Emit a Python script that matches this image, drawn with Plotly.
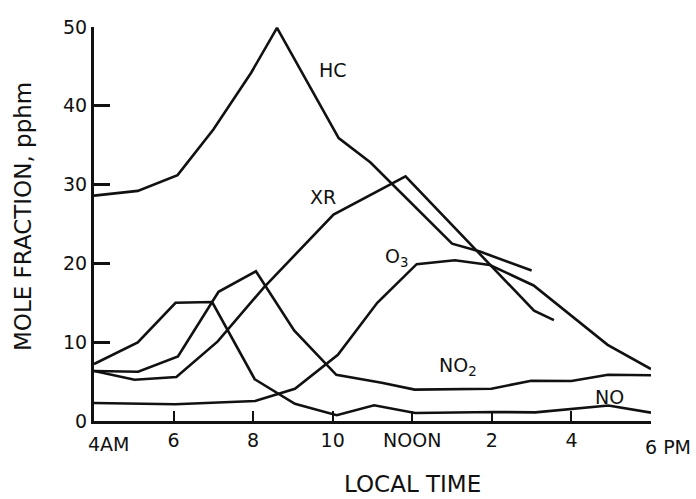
import plotly.graph_objects as go

# Local time (hours, 24h clock) and mole fractions (pphm)
hc_x = [4.0, 5.1, 6.1, 7.0, 7.95, 8.6, 10.15, 10.95, 13.0, 13.7, 15.0]
hc_y = [28.6, 29.2, 31.2, 37.0, 44.2, 49.9, 35.9, 32.8, 22.5, 21.5, 19.1]

xr_x = [4.0, 5.02, 6.07, 7.11, 8.26, 10.02, 11.83, 15.06, 15.56]
xr_y = [6.35, 5.23, 5.59, 10.1, 16.9, 26.2, 31.05, 14.0, 12.8]

o3_x = [4.0, 6.04, 8.05, 9.05, 10.13, 11.12, 12.11, 13.07, 13.95, 15.05, 16.91, 18.0]
o3_y = [2.28, 2.12, 2.54, 4.09, 8.39, 15.0, 19.9, 20.4, 19.8, 17.2, 9.67, 6.6]

no2_x = [4.0, 5.11, 6.11, 7.13, 8.07, 9.03, 10.09, 11.23, 12.06, 13.99, 14.99, 16.0, 16.92, 18.0]
no2_y = [6.35, 6.25, 8.2, 16.4, 19.0, 11.5, 5.85, 4.86, 3.98, 4.1, 5.1, 5.08, 5.86, 5.8]

no_x = [4.0, 5.1, 6.05, 6.97, 8.04, 9.05, 10.1, 11.04, 12.07, 14.07, 15.09, 16.09, 16.93, 18.0]
no_y = [7.23, 9.97, 15.0, 15.1, 5.3, 2.19, 0.73, 2.0, 1.02, 1.15, 1.09, 1.57, 1.96, 1.06]

x_tickvals = [6, 8, 10, 12, 14, 16]
x_ticktext = ["6", "8", "10", "NOON", "2", "4"]
x_end_ticks = [4, 18]
x_end_text = ["4AM", "6 PM"]
y_tickvals = [0, 10, 20, 30, 40, 50]

# series labels: (text, x, y)
label_text = ["HC", "XR", "O<sub>3</sub>", "NO<sub>2</sub>", "NO"]
label_x = [10.0, 9.75, 11.6, 13.15, 16.96]
label_y = [44.6, 28.4, 20.8, 6.9, 3.05]

INK = "#111111"
FONT = "DejaVu Sans"

fig = go.Figure()
for xs, ys in [(hc_x, hc_y), (xr_x, xr_y), (o3_x, o3_y), (no2_x, no2_y), (no_x, no_y)]:
    fig.add_trace(go.Scatter(x=xs, y=ys, mode="lines",
                             line=dict(color=INK, width=2.6),
                             showlegend=False, hoverinfo="skip"))

for t, x, y in zip(label_text, label_x, label_y):
    fig.add_annotation(x=x, y=y, xref="x", yref="y", text=t, showarrow=False,
                       font=dict(family=FONT, size=19, color=INK))

# end tick labels, offset like the original (number sits on the tick)
for xv, t, ys in zip(x_end_ticks, x_end_text, [-10, -13]):
    fig.add_annotation(x=xv, y=0, xref="x", yref="y", text=t, showarrow=False,
                       xanchor="left", yanchor="top", xshift=-8, yshift=ys,
                       font=dict(family=FONT, size=19, color=INK))

# axis titles
fig.add_annotation(x=(412 - 94) / 557, y=(421 - 484) / 394, xref="paper", yref="paper",
                   xanchor="center", yanchor="middle",
                   text="LOCAL TIME", showarrow=False,
                   font=dict(family=FONT, size=23, color=INK))
fig.add_annotation(x=(23 - 94) / 557, y=(421 - 217) / 394, xref="paper", yref="paper",
                   xanchor="center", yanchor="middle",
                   text="MOLE FRACTION, pphm", showarrow=False, textangle=-90,
                   font=dict(family=FONT, size=23, color=INK))

fig.update_xaxes(range=[4, 18], tickvals=x_tickvals, ticktext=x_ticktext,
                 showgrid=False, zeroline=False, showline=True, linecolor=INK,
                 linewidth=3, ticks="inside", ticklen=10, tickwidth=2,
                 tickcolor=INK, ticklabelstandoff=0,
                 tickfont=dict(family=FONT, size=19, color=INK),
                 minor=dict(tickvals=x_end_ticks, ticks="inside", ticklen=10,
                            tickwidth=2, tickcolor=INK, showgrid=False))
fig.update_yaxes(range=[0, 50], tickvals=y_tickvals,
                 showgrid=False, zeroline=False, showline=True, linecolor=INK,
                 linewidth=3, ticks="inside", ticklen=16, tickwidth=2.5,
                 tickcolor=INK, ticklabelstandoff=0,
                 tickfont=dict(family=FONT, size=19, color=INK))

fig.update_layout(width=696, height=499,
                  margin=dict(l=94, r=45, t=27, b=78),
                  paper_bgcolor="white", plot_bgcolor="white",
                  hovermode=False)

fig.write_html("out.html")
